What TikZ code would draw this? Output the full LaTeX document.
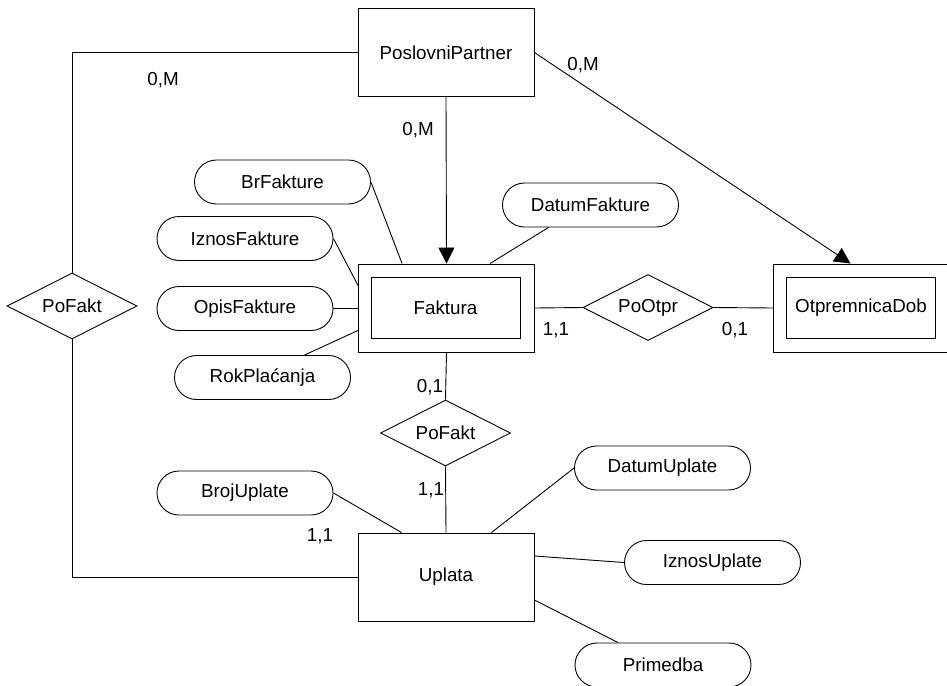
\documentclass[tikz,border=0pt]{standalone}
\usepackage{fontspec}
\setmainfont{Liberation Sans}
\usetikzlibrary{shapes.geometric,shapes.misc,arrows.meta}
\begin{document}
\begin{tikzpicture}[x=1pt,y=-1pt,
  every node/.style={font=\fontsize{18.8}{22}\selectfont, inner sep=0pt},
  line/.style={draw=black, line width=0.9pt},
  entity/.style={rectangle, draw, line width=0.9pt, minimum width=176pt, minimum height=88pt},
  inbox/.style={rectangle, draw, line width=0.9pt, minimum width=149pt, minimum height=61pt},
  attr/.style={rounded rectangle, draw, line width=0.9pt, minimum width=176pt, minimum height=44pt},
  rel/.style={diamond, draw, line width=0.9pt, aspect=2, minimum width=130pt, minimum height=66pt},
  card/.style={}
]
\useasboundingbox (0,0) rectangle (947,685);

% entities
\node[entity] (pp) at (446,52.5) {PoslovniPartner};
\node[entity] (fak) at (446.5,308) {};
\node[inbox] (fakin) at (445.5,307.5) {Faktura};
\node[entity] (otp) at (861.5,308) {};
\node[inbox] (otpin) at (861,308) {OtpremnicaDob};
\node[entity] (upl) at (446,577) {Uplata};

% relationships
\node[rel] (pootpr) at (648,307.5) {PoOtpr};
\node[rel] (pofl) at (72,306) {PoFakt};
\node[rel] (pofm) at (445.5,433) {PoFakt};

% attributes
\node[attr] (brf) at (282.5,182) {BrFakture};
\node[attr] (izf) at (245,238.5) {IznosFakture};
\node[attr] (opf) at (245,308.5) {OpisFakture};
\node[attr] (rok) at (262.5,377.5) {RokPlaćanja};
\node[attr] (datf) at (590.5,205) {DatumFakture};
\node[attr] (broj) at (245,493) {BrojUplate};
\node[attr] (datu) at (662.5,468) {DatumUplate};
\node[attr] (izu) at (712.5,562.5) {IznosUplate};
\node[attr] (prim) at (663,665) {Primedba};

% attribute connectors
\draw[line] (brf.east) -- ([xshift=44pt]fak.north west);
\draw[line] (izf.east) -- ([yshift=-22pt]fak.north west);
\draw[line] (opf.east) -- (opf.east -| fak.west);
\draw[line] ([xshift=42pt]rok.north) -- ([yshift=22pt]fak.south west);
\draw[line] ([xshift=-42pt]datf.south) -- ([xshift=-45pt]fak.north east);
\draw[line] (broj.east) -- ([xshift=44pt]upl.north west);
\draw[line] ([xshift=-43pt]upl.north east) -- (datu.west);
\draw[line] ([yshift=21pt]upl.east) -- (izu.west);
\draw[line] ([yshift=-23pt]upl.east) -- ([xshift=-45pt]prim.north);

% relationship connectors
\draw[line,-{Triangle[length=16pt,width=16pt]}] (pp.south) -- (fak.north);
\draw[line,-{Triangle[length=16pt,width=16pt]}] (pp.east) -- ([xshift=-11pt]otp.north);
\draw[line] (fak.east) -- (pootpr.west);
\draw[line] (pootpr.east) -- (otp.west);
\draw[line] (pp.west) -| (pofl.north);
\draw[line] (pofl.south) |- (upl.west);
\draw[line] (fak.south) -- (pofm.north);
\draw[line] (pofm.south) -- (upl.north);

% cardinalities
\node[card] (c1) at (163,80) {0,M};
\node[card] (c2) at (583,65) {0,M};
\node[card] (c3) at (418,130) {0,M};
\node[card] (c4) at (556,330) {1,1};
\node[card] (c5) at (735,330) {0,1};
\node[card] (c6) at (430,387) {0,1};
\node[card] (c7) at (431,490) {1,1};
\node[card] (c8) at (320,536) {1,1};
\end{tikzpicture}
\end{document}
